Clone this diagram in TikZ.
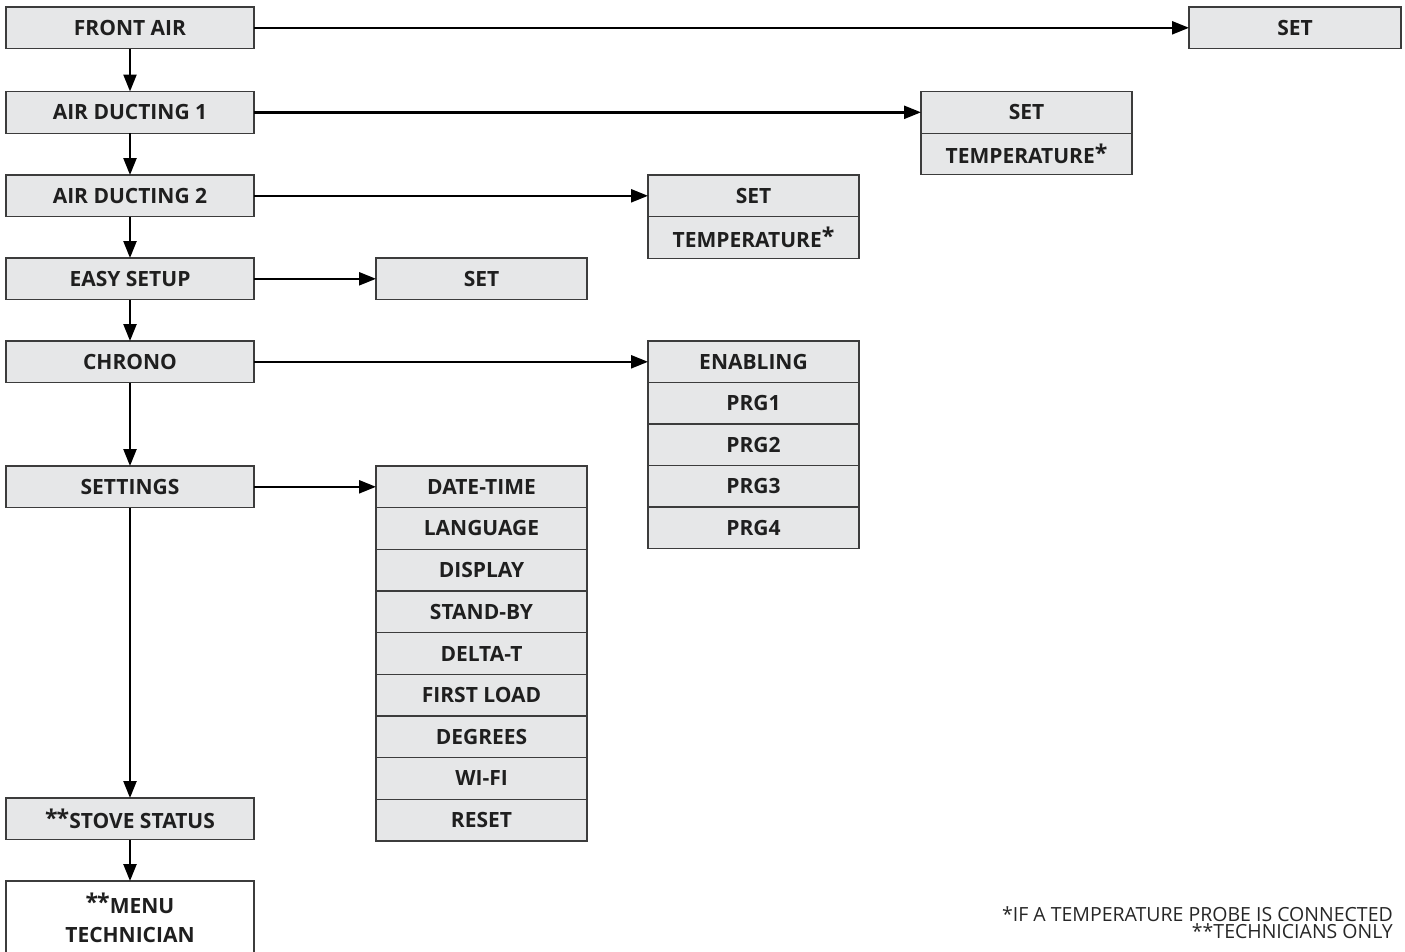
\documentclass[tikz,border=0pt]{standalone}
\usepackage{fontspec}
\setmainfont{Open Sans}
\usetikzlibrary{arrows.meta}
\definecolor{boxfill}{HTML}{E6E7E8}
\definecolor{boxline}{HTML}{3C3C3C}
\newcommand{\astx}{\raisebox{0.22ex}{\scalebox{1.1}{*}}}
\begin{document}
\begin{tikzpicture}[x=1pt,y=-1pt,
  box/.style={draw=boxline, fill=boxfill, line width=1.2pt, minimum width=#1,
    minimum height=41.6pt, inner sep=0pt, outer sep=0pt, anchor=north west,
    font=\bfseries\fontsize{21}{22}\selectfont, text=black!88},
  box/.default=248pt,
  arr/.style={line width=2.4pt, -{Triangle[length=17pt,width=13pt]}}]
\useasboundingbox (0,0) rectangle (1405,951);
% left column
\node[box] (fa)  at (6,7)     {FRONT AIR};
\node[box] (ad1) at (6,91.5)  {AIR DUCTING 1};
\node[box] (ad2) at (6,175)   {AIR DUCTING 2};
\node[box] (es)  at (6,258)   {EASY SETUP};
\node[box] (ch)  at (6,341)   {CHRONO};
\node[box] (st)  at (6,466)   {SETTINGS};
\node[box] (ss)  at (6,798)   {\astx\kern-1pt\astx STOVE STATUS};
\node[box, fill=white, minimum height=74pt, align=center,
      font=\bfseries\fontsize{21}{29}\selectfont] (mt) at (6,881) {\astx\kern-1pt\astx MENU\\TECHNICIAN};
% right nodes
\node[box=212pt] (fset) at (1189,7) {SET};
\node[box=211pt] (a1set) at (921,91.5) {SET};
\node[box=211pt] (a1tmp) at (921,133.1) {TEMPERATURE\astx};
\node[box=211pt] (a2set) at (648,175) {SET};
\node[box=211pt] (a2tmp) at (648,216.6) {TEMPERATURE\astx};
\node[box=211pt] (eset) at (376,258) {SET};
\foreach \t [count=\i from 0] in {ENABLING,PRG1,PRG2,PRG3,PRG4}
  \node[box=211pt] (c\i) at (648,341+41.5*\i) {\t};
\foreach \t [count=\i from 0] in {DATE-TIME,LANGUAGE,DISPLAY,STAND-BY,DELTA-T,FIRST LOAD,DEGREES,WI-FI,RESET}
  \node[box=211pt] (s\i) at (376,466+41.67*\i) {\t};
% arrows
\draw[arr] (fa) -- (fset);
\draw[arr] (ad1) -- (a1set);
\draw[arr] (ad2) -- (a2set);
\draw[arr] (es) -- (eset);
\draw[arr] (ch) -- (c0);
\draw[arr] (st) -- (s0);
\draw[arr] (fa) -- (ad1);
\draw[arr] (ad1) -- (ad2);
\draw[arr] (ad2) -- (es);
\draw[arr] (es) -- (ch);
\draw[arr] (ch) -- (st);
\draw[arr] (st) -- (ss);
\draw[arr] (ss) -- (mt);
% footnotes
\node[anchor=base east, inner sep=0pt, font=\fontsize{19.5}{17}\selectfont, align=right, text=black!85]
  (note) at (1393,938) {*IF A TEMPERATURE PROBE IS CONNECTED\\**TECHNICIANS ONLY};
\end{tikzpicture}
\end{document}
